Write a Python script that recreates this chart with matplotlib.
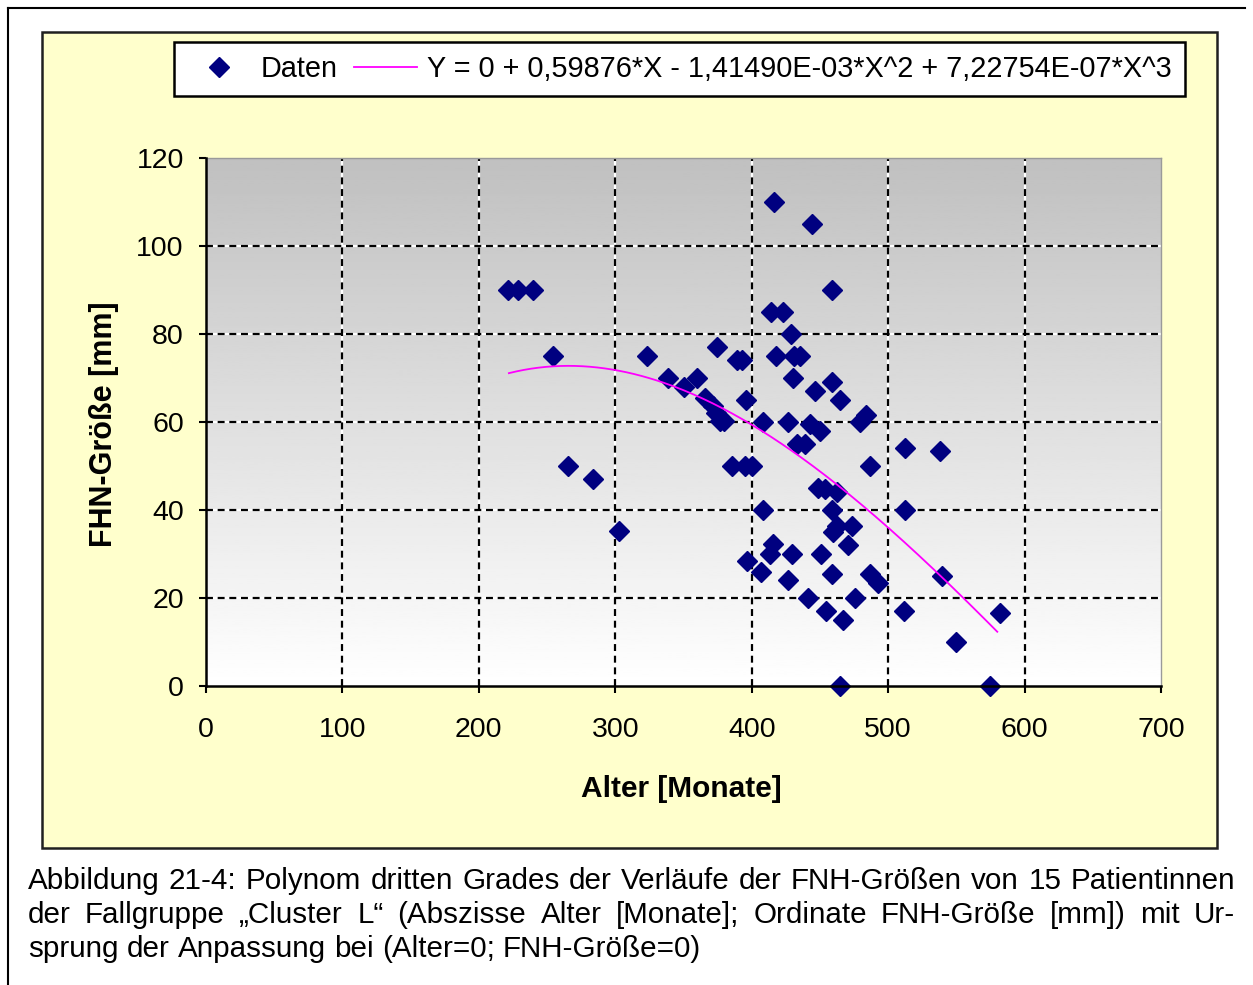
import matplotlib
matplotlib.use("Agg")
import matplotlib.pyplot as plt
import numpy as np
from matplotlib.lines import Line2D
from matplotlib.patches import Rectangle

plt.rcParams['font.family'] = ['Liberation Sans', 'DejaVu Sans']
plt.rcParams['lines.scale_dashes'] = False

# Alter [Monate]
alter = [221, 229, 239.5, 254, 323, 339, 350, 359.7, 374.6, 389, 392.7, 396,
         365.4, 371.6, 374, 376.7, 380, 408.6, 416.4, 444.5, 458.6, 414, 423,
         429, 418, 431, 435.4, 430.5, 446.4, 458.6, 464.6, 426.4, 442.7, 450,
         479.4, 483.5, 432.9, 439, 512.4, 538, 486.6, 385.5, 395, 400, 448.9,
         453.7, 462.3, 408.6, 458.6, 512.4, 462.3, 473.3, 459.7, 470.3, 415.9,
         413.4, 429.3, 450.8, 396.3, 406.6, 426.4, 458.6, 486.7, 492.9, 539.7,
         441.2, 475.5, 454.4, 466.6, 511.6, 581.8, 549.5, 464.6, 575, 265.4,
         284, 302.4]
# FNH-Groesse [mm]
groesse = [90, 90, 90, 75, 75, 70, 68, 70, 77, 74, 74, 65,
           65.5, 63.6, 62, 60.2, 60.2, 60, 110, 105, 90, 85, 85,
           80, 75, 75, 75, 70, 67, 69, 65, 60, 59.5, 58,
           60, 61.5, 55, 55, 54, 53.3, 50, 50, 50, 50, 45,
           44.7, 44, 40, 40, 40, 36.4, 36.4, 35, 32, 32.2,
           30, 30, 30, 28.4, 26, 24, 25.4, 25.4, 23.5, 25,
           20, 20, 17, 15, 17, 16.5, 10, 0, 0, 50,
           47, 35.2]

# Trendlinie: Y = 0 + 0,59876*X - 1,41490E-03*X^2 + 7,22754E-07*X^3
coeffs = [7.22754e-07, -1.41490e-03, 0.59876, 0.0]
fit_von, fit_bis = 222, 580
fit_label = "Y = 0 + 0,59876*X - 1,41490E-03*X^2 + 7,22754E-07*X^3"

xticks = [0, 100, 200, 300, 400, 500, 600, 700]
yticks = [0, 20, 40, 60, 80, 100, 120]

caption = [
    "Abbildung 21-4: Polynom dritten Grades der Verläufe der FNH-Größen von 15 Patientinnen",
    "der Fallgruppe „Cluster L“ (Abszisse Alter [Monate]; Ordinate FNH-Größe [mm]) mit Ur-",
    "sprung der Anpassung bei (Alter=0; FNH-Größe=0)",
]

W, H = 1253, 985
fig = plt.figure(figsize=(W / 100, H / 100), dpi=100)
fig.patch.set_facecolor('white')

# outer page border (left + top)
fig.add_artist(Line2D([8 / W, 8 / W], [0, 1 - 8 / H], transform=fig.transFigure,
                      color='black', lw=1.5))
fig.add_artist(Line2D([8 / W, 1245 / W], [1 - 8 / H, 1 - 8 / H], transform=fig.transFigure,
                      color='black', lw=1.5))

# yellow chart area
fig.add_artist(Rectangle((42 / W, 1 - 848 / H), 1175 / W, 816 / H, transform=fig.transFigure,
                         facecolor='#FFFFCC', edgecolor='#202020', lw=1.8, zorder=0))

ax = fig.add_axes([206 / W, 1 - 686 / H, 955 / W, 528 / H])
ax.set_facecolor('none')

# gradient background
grad = np.linspace(255, 192, 256).reshape(-1, 1)
ax.imshow(grad, extent=[0, 700, 0, 120], origin='lower', aspect='auto',
          cmap='gray', vmin=0, vmax=255, zorder=0)

for xv in xticks[1:-1]:
    ax.axvline(xv, color='white', lw=1.6, zorder=1)
    ax.axvline(xv, color='black', lw=1.6, dashes=(5, 3.4), zorder=1.1)
for yv in yticks[1:-1]:
    ax.axhline(yv, color='white', lw=1.6, zorder=1)
    ax.axhline(yv, color='black', lw=1.6, dashes=(5, 3.4), zorder=1.1)

ms = 10.5
ax.plot(alter, groesse, ls='none', marker='D', ms=ms, color='#000080',
        zorder=3, clip_on=False)
xf = np.linspace(fit_von, fit_bis, 200)
ax.plot(xf, np.polyval(coeffs, xf), color='#FF00FF', lw=1.3, zorder=4)

ax.set_xlim(0, 700)
ax.set_ylim(0, 120)
ax.set_xticks(xticks)
ax.set_yticks(yticks)
ax.tick_params(direction='out', length=5, width=1.5, labelsize=20.5, colors='black')
ax.tick_params(axis='y', pad=11)
ax.tick_params(axis='x', pad=17)
for s in ['top', 'right']:
    ax.spines[s].set_color('#9A9A9A')
    ax.spines[s].set_linewidth(1)
for s in ['left', 'bottom']:
    ax.spines[s].set_linewidth(1.8)
    ax.spines[s].set_zorder(5)

ax.set_xlabel('Alter [Monate]', fontsize=21.5, fontweight='bold', va='baseline')
ax.xaxis.set_label_coords(0.498, -0.210)
ax.set_ylabel('FHN-Größe [mm]', fontsize=22, fontweight='bold', va='baseline')
ax.yaxis.set_label_coords(-0.0984, 0.496)

handles = [Line2D([], [], ls='none', marker='D', ms=ms, color='#000080'),
           Line2D([], [], color='#FF00FF', lw=1.3)]
leg = fig.legend(handles, ['Daten', fit_label], ncol=2, loc='upper left',
                 bbox_to_anchor=(174 / W, 1 - 42 / H), borderaxespad=0,
                 fontsize=20.8, frameon=True, fancybox=False, edgecolor='black',
                 framealpha=1, handlelength=2.2, handletextpad=0.35,
                 columnspacing=0.55, borderpad=0.45)
leg.get_frame().set_linewidth(1.8)

# justified caption
r = fig.canvas.get_renderer()
x0, x1 = 28, 1235
baselines = [889, 923, 957]
for i, (line, yb) in enumerate(zip(caption, baselines)):
    words = line.split(' ')
    texts = [fig.text(0, 1 - yb / H, w, fontsize=21.3, va='baseline', ha='left')
             for w in words]
    widths = [t.get_window_extent(r).width for t in texts]
    if i < len(caption) - 1:
        gap = (x1 - x0 - sum(widths)) / (len(words) - 1)
    else:
        gap = 0.278 * 21.3 * 100 / 72
    x = x0
    for t, wd in zip(texts, widths):
        t.set_x(x / W)
        x += wd + gap

fig.savefig('out.png', dpi=100)
